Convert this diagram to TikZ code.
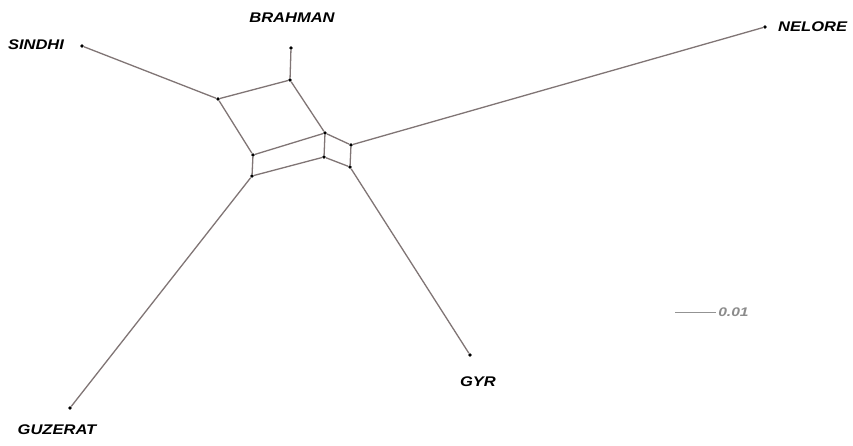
\documentclass[tikz,border=0pt]{standalone}
\usepackage{fontspec}
\setmainfont{Liberation Sans}
\begin{document}
\begin{tikzpicture}[x=1pt,y=-1pt,
  edge/.style={draw=black!50!red!8!gray, line width=1.3pt},
  vtx/.style={circle, fill=black, inner sep=0pt, minimum size=3.8pt},
  lab/.style={font=\fontsize{14}{15}\selectfont\bfseries\itshape, xscale=1.18, inner sep=0pt}]
\useasboundingbox (0,0) rectangle (853,446);
\fill[white] (0,0) rectangle (853,446);
% inner vertices
\node[vtx] (top) at (290,80) {};
\node[vtx] (lft) at (218,99) {};
\node[vtx] (rm) at (325,133) {};
\node[vtx] (a) at (253,155) {};
\node[vtx] (b) at (324,157) {};
\node[vtx] (c) at (351,145) {};
\node[vtx] (d) at (350,167) {};
\node[vtx] (e) at (252,176) {};
% leaves
\node[vtx] (s) at (82,46) {};
\node[vtx] (br) at (291,48) {};
\node[vtx] (n) at (765,27) {};
\node[vtx] (g) at (470,355) {};
\node[vtx] (gu) at (70,408) {};
% edges
\draw[edge] (top) -- (lft);
\draw[edge] (top) -- (rm);
\draw[edge] (lft) -- (a);
\draw[edge] (a) -- (rm);
\draw[edge] (rm) -- (b);
\draw[edge] (a) -- (e);
\draw[edge] (e) -- (b);
\draw[edge] (rm) -- (c);
\draw[edge] (b) -- (d);
\draw[edge] (c) -- (d);
\draw[edge] (s) -- (lft);
\draw[edge] (br) -- (top);
\draw[edge] (n) -- (c);
\draw[edge] (g) -- (d);
\draw[edge] (gu) -- (e);
% labels
\node[lab] (ls) at (36,45) {SINDHI};
\node[lab] (lb) at (292,18) {BRAHMAN};
\node[lab, anchor=west] (ln) at (778,27) {NELORE};
\node[lab] (lg) at (478,382) {GYR};
\node[lab] (lgu) at (57,430) {GUZERAT};
% scale bar
\coordinate (sb1) at (675,312);
\coordinate (sb2) at (716,312);
\draw[edge, line width=1pt, draw=gray!85] (sb1) -- (sb2);
\node[font=\fontsize{12.5}{13}\selectfont\bfseries\itshape, text=gray!90, anchor=west, inner sep=0pt, xscale=1.25] (sl) at (718,312) {0.01};
\end{tikzpicture}
\end{document}
